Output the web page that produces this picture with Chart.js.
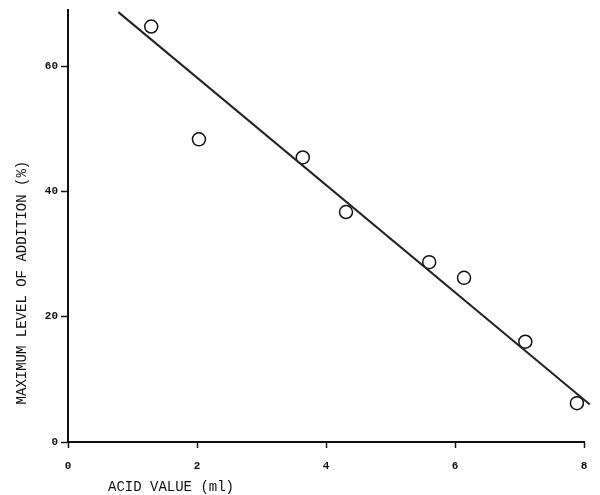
<!DOCTYPE html>
<html>
<head>
<meta charset="utf-8">
<script src="https://cdn.jsdelivr.net/npm/chart.js@4"></script>
<style>
  body { margin: 0; background: #fff; }
  #wrap { width: 600px; height: 495px; }
</style>
</head>
<body>
<div id="wrap"><canvas id="acidChart"></canvas></div>
<script>
// measured points
var acidValue = [1.29, 2.03, 3.64, 4.31, 5.60, 6.14, 7.09, 7.89];
var maxLevel  = [66.3, 48.3, 45.4, 36.7, 28.7, 26.2, 16.0, 6.2];

// fitted line end points
var fitX = [0.78, 8.09];
var fitY = [68.6, 6.0];

var xTicks = [0, 2, 4, 6, 8];
var yTicks = [0, 20, 40, 60];

var xTitle = "ACID VALUE (ml)";
var yTitle = "MAXIMUM LEVEL OF ADDITION (%)";

function toPoints(xs, ys) {
  var pts = [];
  for (var i = 0; i < xs.length; ++i) pts.push({ x: xs[i], y: ys[i] });
  return pts;
}

// axis titles drawn by hand (they sit off-centre in the original)
var titlePlugin = {
  id: 'offTitles',
  afterDraw: function(chart) {
    var c = chart.ctx, a = chart.chartArea;
    c.save();
    c.fillStyle = '#111';
    c.font = '14px "Liberation Mono", monospace';
    c.textBaseline = 'middle';
    c.textAlign = 'left';
    c.fillText(xTitle, a.left + 40, a.bottom + 45);
    c.translate(22, a.top + 273);
    c.rotate(-Math.PI / 2);
    c.textAlign = 'center';
    c.fillText(yTitle, 0, 0);
    c.restore();
  }
};

var ctx = document.getElementById("acidChart").getContext("2d");
var acidChart = new Chart(ctx, {
  type: 'scatter',
  data: {
    datasets: [
      {
        label: 'fit',
        type: 'line',
        data: toPoints(fitX, fitY),
        borderColor: '#222',
        borderWidth: 2,
        pointRadius: 0,
        fill: false,
        clip: false
      },
      {
        label: 'data',
        data: toPoints(acidValue, maxLevel),
        pointRadius: 6.5,
        pointBorderWidth: 1.5,
        pointBorderColor: '#111',
        pointBackgroundColor: '#fff'
      }
    ]
  },
  options: {
    responsive: true,
    maintainAspectRatio: false,
    animation: false,
    layout: { padding: { left: 0, top: 8, right: 16, bottom: 0 } },
    plugins: { legend: { display: false }, tooltip: { enabled: false } },
    scales: {
      x: {
        type: 'linear',
        min: 0,
        max: 8,
        afterBuildTicks: function(s) { s.ticks = xTicks.map(function(v) { return { value: v }; }); },
        afterFit: function(s) { s.height = 53; },
        border: { color: '#111', width: 2 },
        grid: { drawOnChartArea: false, tickLength: 6, color: '#111', tickWidth: 1.5 },
        ticks: { color: '#111', padding: 12, font: { family: 'Liberation Mono', size: 11, weight: 'bold' } }
      },
      y: {
        type: 'linear',
        min: 0,
        max: 69,
        afterBuildTicks: function(s) { s.ticks = yTicks.map(function(v) { return { value: v }; }); },
        afterFit: function(s) { s.width = 68; },
        border: { color: '#111', width: 2 },
        grid: { drawOnChartArea: false, tickLength: 7, color: '#111', tickWidth: 1.5 },
        ticks: { color: '#111', padding: 3, font: { family: 'Liberation Mono', size: 11, weight: 'bold' } }
      }
    }
  },
  plugins: [titlePlugin]
});
</script>
</body>
</html>
